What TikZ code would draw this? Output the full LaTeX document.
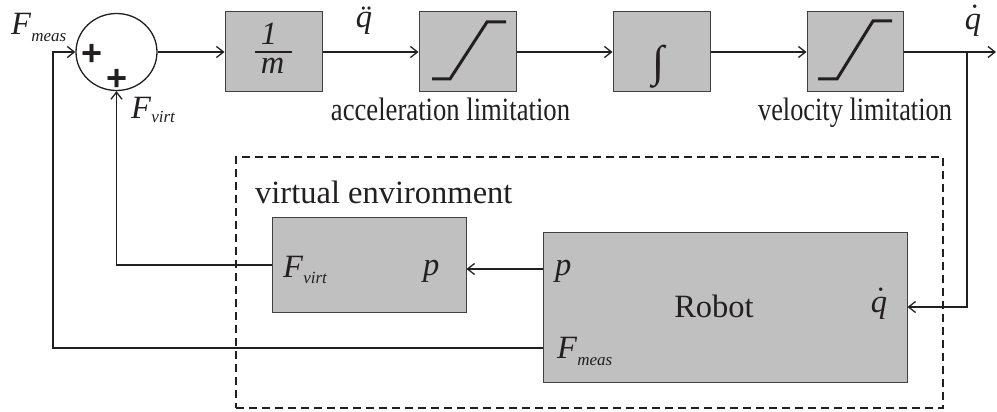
\documentclass[tikz,border=0pt]{standalone}
\usepackage{fontspec}
\setmainfont{Liberation Serif}
\newfontfamily\plusfont{Liberation Sans}
\usetikzlibrary{arrows.meta,shapes.geometric,calc}
\newcommand\FSub[2]{\textit{F}\raisebox{-#2pt}{\fontsize{17}{17}\selectfont\textit{#1}}}
% accented italic q: #1 accent glyph, #2 horizontal offset, #3 raise
\newcommand\AccQ[3]{\rlap{\hspace{#2}\raisebox{#3}{#1}}\textit{q}}
\definecolor{blkgray}{HTML}{C0C0C0}
\definecolor{ink}{HTML}{231F20}
\tikzset{
  conn/.style={line width=1.3pt, draw=ink},
  blk/.style={draw=black!75, line width=1pt, fill=blkgray, inner sep=0pt},
  lab/.style={inner sep=0pt, text=ink, font=\fontsize{32.5}{38}\selectfont},
  plussign/.style={inner sep=0pt, text=ink, font=\plusfont\bfseries\fontsize{36}{40}\selectfont},
  sat/.style={line width=3pt, draw=ink},
  envbox/.style={draw=ink, line width=1.4pt, dash pattern=on 8pt off 5pt, inner sep=0pt},
}
\begin{document}
\begin{tikzpicture}[x=1pt,y=-1pt, >={Straight Barb[length=7pt,width=11pt]}]
\useasboundingbox (0,0) rectangle (997,412);
% virtual environment frame
\node[envbox, minimum width=707pt, minimum height=251pt] (env) at (589.5,282.5) {};
% summing junction
\node[ellipse, draw=ink, line width=1.3pt, minimum width=81pt, minimum height=77pt, inner sep=0pt] (sum) at (116.5,52) {};
\node[plussign] (p1) at (92,55) {+};
\node[plussign] (p2) at (117,80) {+};
% blocks
\node[blk, minimum width=97pt, minimum height=80pt] (b1) at (273.5,52) {};
\node[blk, minimum width=97pt, minimum height=80pt] (b2) at (467.5,52) {};
\node[blk, minimum width=97pt, minimum height=80pt] (b3) at (661.5,52) {};
\node[blk, minimum width=96pt, minimum height=80pt] (b4) at (855,52) {};
\node[blk, minimum width=194pt, minimum height=95pt] (ve) at (369,264.5) {};
\node[blk, minimum width=364pt, minimum height=150pt] (rob) at (725,307) {};
% fraction 1/m
\node[lab, anchor=base] (one) at (269,45) {\textit{1}};
\node[lab, anchor=base] (mm) at (272.5,74) {\textit{m}};
\draw[line width=1.5pt, draw=ink] (255,52) -- (292,52);
% saturation curves
\draw[sat] (432,79) -- (450,79) -- (487,22) -- (506,22);
\draw[sat] (818,79) -- (837,79) -- (873,21) -- (892,21);
% integral
\node[lab, anchor=center, font=\fontsize{44}{50}\selectfont] (intg) at (659,67) {∫};
% coordinates
\coordinate (c1) at (53,52);
\coordinate (fmy) at (0,348);
\coordinate (fvy) at (0,265);
\coordinate (py) at (0,269);
\coordinate (br) at (967,52);
\coordinate (out) at (996,52);
% connectors
\draw[conn,->] (sum.east) -- (b1.west);
\draw[conn,->] (b1.east) -- (b2.west);
\draw[conn,->] (b2.east) -- (b3.west);
\draw[conn,->] (b3.east) -- (b4.west);
\draw[conn,->] (b4.east) -- (out);
\draw[conn,->] (br) |- (rob.east);
\draw[conn,->] (rob.west |- py) -- (ve.east |- py);
\draw[conn,->] (ve.west |- fvy) -| (sum.south);
\draw[conn,->] (rob.west |- fmy) -| (c1) -- (sum.west);
% labels
\node[lab, anchor=base west] (fmeas) at (11,35) {\FSub{meas}{7}};
\node[lab, anchor=base west] (fvirt) at (131,118) {\FSub{virt}{5}};
\node[lab, anchor=base] (qdd) at (364,28) {\AccQ{¨}{5pt}{0pt}};
\node[lab, anchor=base] (qd) at (973,30) {\AccQ{˙}{4.6pt}{3.5pt}};
\node[lab, anchor=base] (acc) at (450.5,121) {\scalebox{0.82}[1]{acceleration limitation}};
\node[lab, anchor=base] (vel) at (855,121) {\scalebox{0.81}[1]{velocity limitation}};
\node[lab, anchor=base west] (venv) at (255,203) {virtual environment};
\node[lab, anchor=base west] (vef) at (283,277) {\FSub{virt}{6}};
\node[lab, anchor=base west] (vep) at (423,275) {\textit{p}};
\node[lab, anchor=base west] (rp) at (555,275) {\textit{p}};
\node[lab, anchor=base west] (rfm) at (557,358) {\FSub{meas}{7}};
\node[lab, anchor=base] (robtxt) at (714,317) {Robot};
\node[lab, anchor=base] (rq) at (879,312) {\AccQ{˙}{4.6pt}{2.5pt}};
\end{tikzpicture}
\end{document}
